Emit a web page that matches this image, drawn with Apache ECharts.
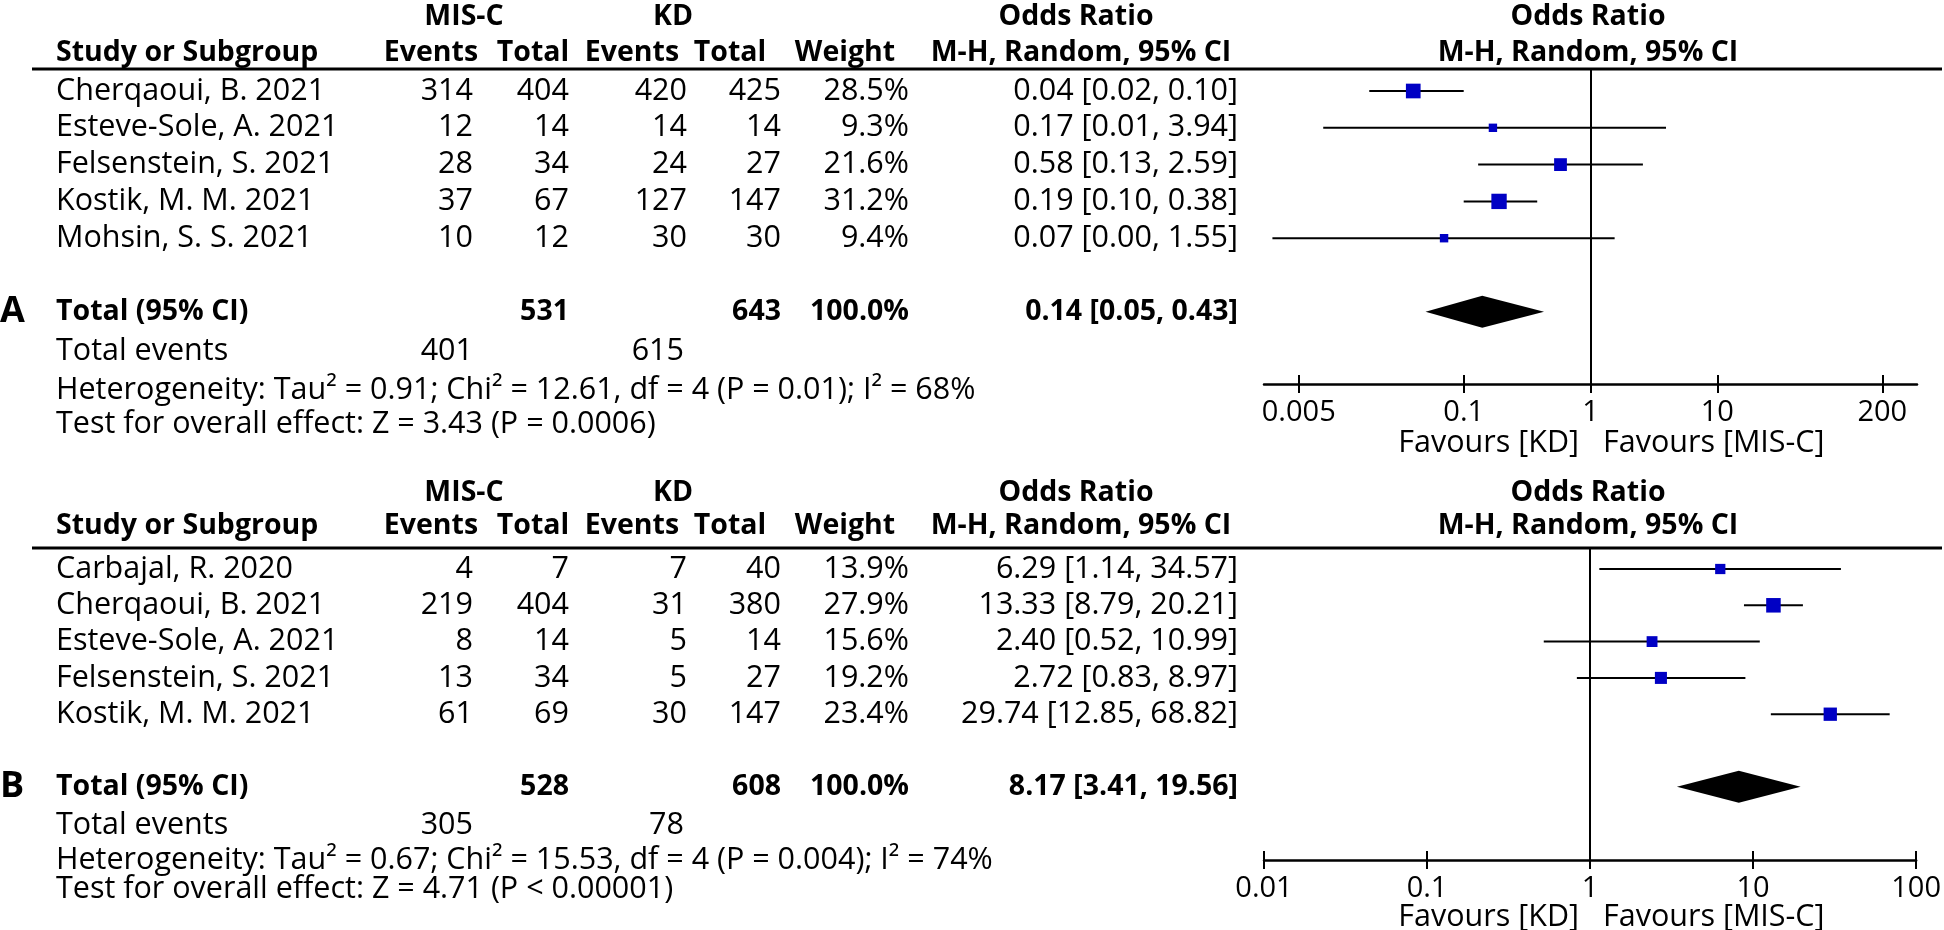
<!DOCTYPE html>
<html><head><meta charset="utf-8">
<script src="https://cdn.jsdelivr.net/npm/echarts@6/dist/echarts.min.js"></script>
<style>html,body{margin:0;padding:0;background:#fff}#c{width:1944px;height:930px}</style>
</head><body><div id="c"></div>
<script>
// ---------- DATA ----------
const studiesA = ['Cherqaoui, B. 2021','Esteve-Sole, A. 2021','Felsenstein, S. 2021','Kostik, M. M. 2021','Mohsin, S. S. 2021'];
const miscEventsA = [314, 12, 28, 37, 10];
const miscTotalA  = [404, 14, 34, 67, 12];
const kdEventsA   = [420, 14, 24, 127, 30];
const kdTotalA    = [425, 14, 27, 147, 30];
const weightA     = [28.5, 9.3, 21.6, 31.2, 9.4];
const orA         = [0.04, 0.17, 0.58, 0.19, 0.07];
const lowerA      = [0.018, 0.0078, 0.13, 0.10, 0.0031];
const upperA      = [0.10, 3.94, 2.59, 0.38, 1.55];
const pooledA     = [0.14, 0.05, 0.43];
const ticksA      = [0.005, 0.1, 1, 10, 200];
const tickLabelsA = ['0.005', '0.1', '1', '10', '200'];

const studiesB = ['Carbajal, R. 2020','Cherqaoui, B. 2021','Esteve-Sole, A. 2021','Felsenstein, S. 2021','Kostik, M. M. 2021'];
const miscEventsB = [4, 219, 8, 13, 61];
const miscTotalB  = [7, 404, 14, 34, 69];
const kdEventsB   = [7, 31, 5, 5, 30];
const kdTotalB    = [40, 380, 14, 27, 147];
const weightB     = [13.9, 27.9, 15.6, 19.2, 23.4];
const orB         = [6.29, 13.33, 2.40, 2.72, 29.74];
const lowerB      = [1.14, 8.79, 0.52, 0.83, 12.85];
const upperB      = [34.57, 20.21, 10.99, 8.97, 68.82];
const pooledB     = [8.17, 3.41, 19.56];
const ticksB      = [0.01, 0.1, 1, 10, 100];
const tickLabelsB = ['0.01', '0.1', '1', '10', '100'];

const tau2   = [0.91, 0.67];
const chi2   = [12.61, 15.53];
const dfHet  = [4, 4];
const pHet   = ['= 0.01', '= 0.004'];
const i2     = [68, 74];
const zVal   = [3.43, 4.71];
const pZ     = ['= 0.0006', '< 0.00001'];
const panelLetters = ['A', 'B'];
const favours = ['Favours [KD]', 'Favours [MIS-C]'];

// ---------- LAYOUT ----------
const FONT = "'Open Sans', sans-serif";
const FS = 30.5;      // regular text
const FSB = 28.5;     // bold text
const FST = 29;       // tick labels
const PL = [
  {top:69, bot:384, row0:91, step:36.8, gY:17, hY:53, eY:351, hetY:390, testY:424, favY:443, xMin:-2.575, xMax:2.575},
  {top:548, bot:860, row0:569, step:36.3, gY:493, hY:526, eY:825, hetY:860, testY:889, favY:917, xMin:-2, xMax:2}
];
const TOTAL_ROW = 6;
const COL = {name:56, mEv:473, mN:569, kEv:687, kN:781, w:909, or:1238};
const HEAD = {mEv:431, mN:533, kEv:632, kN:730, w:845, or:1081, plot:1588, gMisc:464, gKd:673};
const PLOT_LEFT = 1264, PLOT_RIGHT = 27;
const SQ_K = 2.75;

const panels = [
  {studies:studiesA, mEv:miscEventsA, mN:miscTotalA, kEv:kdEventsA, kN:kdTotalA, w:weightA, or:orA, lo:lowerA, hi:upperA, pooled:pooledA, ticks:ticksA, tickLabels:tickLabelsA},
  {studies:studiesB, mEv:miscEventsB, mN:miscTotalB, kEv:kdEventsB, kN:kdTotalB, w:weightB, or:orB, lo:lowerB, hi:upperB, pooled:pooledB, ticks:ticksB, tickLabels:tickLabelsB}
];

const sum = a => a.reduce((s, v) => s + v, 0);
const ciText = (o, l, h) => o.toFixed(2) + ' [' + l.toFixed(2) + ', ' + h.toFixed(2) + ']';

const graphics = [];
function txt(x, y, s, align, bold, size) {
  graphics.push({type:'text', silent:true, style:{text:s, x:x, y:y, fill:'#000',
    font:(bold ? 'bold ' : '') + (size || (bold ? FSB : FS)) + 'px ' + FONT, textAlign:align || 'left', textVerticalAlign:'middle'}});
}
function hline(x1, x2, y, w) {
  graphics.push({type:'line', silent:true, shape:{x1:x1, y1:y, x2:x2, y2:y}, style:{stroke:'#000', lineWidth:w}});
}

const grids = [], xAxes = [], yAxes = [], series = [];

panels.forEach((p, k) => {
  const L = PL[k];
  const rowY = i => L.row0 + i * L.step;
  // header texts
  txt(HEAD.gMisc, L.gY, 'MIS-C', 'center', true);
  txt(HEAD.gKd, L.gY, 'KD', 'center', true);
  txt(HEAD.or - 5, L.gY, 'Odds Ratio', 'center', true);
  txt(HEAD.plot, L.gY, 'Odds Ratio', 'center', true);
  txt(COL.name, L.hY, 'Study or Subgroup', 'left', true);
  txt(HEAD.mEv, L.hY, 'Events', 'center', true);
  txt(HEAD.mN, L.hY, 'Total', 'center', true);
  txt(HEAD.kEv, L.hY, 'Events', 'center', true);
  txt(HEAD.kN, L.hY, 'Total', 'center', true);
  txt(HEAD.w, L.hY, 'Weight', 'center', true);
  txt(HEAD.or, L.hY, 'M-H, Random, 95% CI', 'center', true);
  txt(HEAD.plot, L.hY, 'M-H, Random, 95% CI', 'center', true);
  hline(32, 1942, L.top, 3);
  // study rows
  p.studies.forEach((s, i) => {
    const y = rowY(i);
    txt(COL.name, y, s);
    txt(COL.mEv, y, String(p.mEv[i]), 'right');
    txt(COL.mN, y, String(p.mN[i]), 'right');
    txt(COL.kEv, y, String(p.kEv[i]), 'right');
    txt(COL.kN, y, String(p.kN[i]), 'right');
    txt(COL.w, y, p.w[i].toFixed(1) + '%', 'right');
    txt(COL.or, y, ciText(p.or[i], p.lo[i], p.hi[i]), 'right');
  });
  // total row
  const ty = rowY(TOTAL_ROW);
  txt(0, ty, panelLetters[k], 'left', true, 36);
  txt(COL.name, ty, 'Total (95% CI)', 'left', true);
  txt(COL.mN, ty, String(sum(p.mN)), 'right', true);
  txt(COL.kN, ty, String(sum(p.kN)), 'right', true);
  txt(COL.w, ty, sum(p.w).toFixed(1) + '%', 'right', true);
  txt(COL.or, ty, ciText(p.pooled[0], p.pooled[1], p.pooled[2]), 'right', true);
  txt(COL.name, L.eY, 'Total events');
  txt(COL.mEv, L.eY, String(sum(p.mEv)), 'right');
  txt(COL.kEv - 3, L.eY, String(sum(p.kEv)), 'right');
  txt(COL.name, L.hetY, 'Heterogeneity: Tau\u00B2 = ' + tau2[k].toFixed(2) + '; Chi\u00B2 = ' + chi2[k].toFixed(2) +
      ', df = ' + dfHet[k] + ' (P ' + pHet[k] + '); I\u00B2 = ' + i2[k] + '%');
  txt(COL.name, L.testY, 'Test for overall effect: Z = ' + zVal[k].toFixed(2) + ' (P ' + pZ[k] + ')');
  txt(HEAD.plot - 9, L.favY, favours[0], 'right');
  txt(HEAD.plot + 15, L.favY, favours[1], 'left');

  // plot grid
  grids.push({left:PLOT_LEFT, right:PLOT_RIGHT, top:L.top, height:L.bot - L.top, containLabel:false});
  const logTicks = p.ticks.map(t => Math.log10(t));
  const fmt = v => { const j = logTicks.findIndex(t => Math.abs(t - v) < 1e-6); return j >= 0 ? p.tickLabels[j] : ''; };
  xAxes.push({gridIndex:k, type:'value', min:L.xMin, max:L.xMax, position:'bottom', offset:0,
    axisLine:{show:true, onZero:false, lineStyle:{color:'#000', width:2.5}},
    axisTick:{show:true, inside:false, length:9, customValues:logTicks, lineStyle:{color:'#000', width:2}},
    axisLabel:{show:true, customValues:logTicks, formatter:fmt, color:'#000', fontSize:FST, fontFamily:FONT, margin:14},
    splitLine:{show:false}});
  xAxes.push({gridIndex:k, type:'value', min:L.xMin, max:L.xMax, position:'bottom', offset:0,
    axisLine:{show:false, onZero:false},
    axisTick:{show:true, inside:true, length:9, customValues:logTicks, lineStyle:{color:'#000', width:2}},
    axisLabel:{show:false}, splitLine:{show:false}});
  yAxes.push({gridIndex:k, type:'value', inverse:true, show:false,
    min:-(L.row0 - L.top) / L.step, max:(L.bot - L.row0) / L.step, splitLine:{show:false}});

  const studyData = p.or.map((o, i) => [i, Math.log10(o), Math.log10(p.lo[i]), Math.log10(p.hi[i]), SQ_K * Math.sqrt(p.w[i])]);
  series.push({type:'custom', xAxisIndex:2 * k, yAxisIndex:k, silent:true, clip:false,
    encode:{x:[1, 2, 3], y:0}, data:studyData,
    renderItem:(params, api) => {
      const r = api.value(0);
      const c = api.coord([api.value(1), r]);
      const l = api.coord([api.value(2), r]);
      const h = api.coord([api.value(3), r]);
      const s = api.value(4);
      return {type:'group', children:[
        {type:'line', shape:{x1:l[0], y1:l[1], x2:h[0], y2:h[1]}, style:{stroke:'#000', lineWidth:2}},
        {type:'rect', shape:{x:c[0] - s / 2, y:c[1] - s / 2, width:s, height:s}, style:{fill:'#0000c4'}}
      ]};
    },
    markLine:{silent:true, symbol:'none', label:{show:false}, animation:false,
      lineStyle:{color:'#000', width:2, type:'solid'}, data:[{xAxis:0}]}
  });
  series.push({type:'custom', xAxisIndex:2 * k, yAxisIndex:k, silent:true, clip:false,
    encode:{x:[1, 2, 3], y:0},
    data:[[TOTAL_ROW, Math.log10(p.pooled[0]), Math.log10(p.pooled[1]), Math.log10(p.pooled[2])]],
    renderItem:(params, api) => {
      const r = api.value(0);
      const c = api.coord([api.value(1), r]);
      const l = api.coord([api.value(2), r]);
      const h = api.coord([api.value(3), r]);
      const hh = 16;
      return {type:'polygon', shape:{points:[[l[0], c[1]], [c[0], c[1] - hh], [h[0], c[1]], [c[0], c[1] + hh]]},
        style:{fill:'#000'}};
    }
  });
});

const chart = echarts.init(document.getElementById('c'), null, {renderer:'canvas'});
chart.setOption({
  animation:false,
  backgroundColor:'#fff',
  grid:grids, xAxis:xAxes, yAxis:yAxes, series:series,
  graphic:{elements:graphics}
});
</script></body></html>
